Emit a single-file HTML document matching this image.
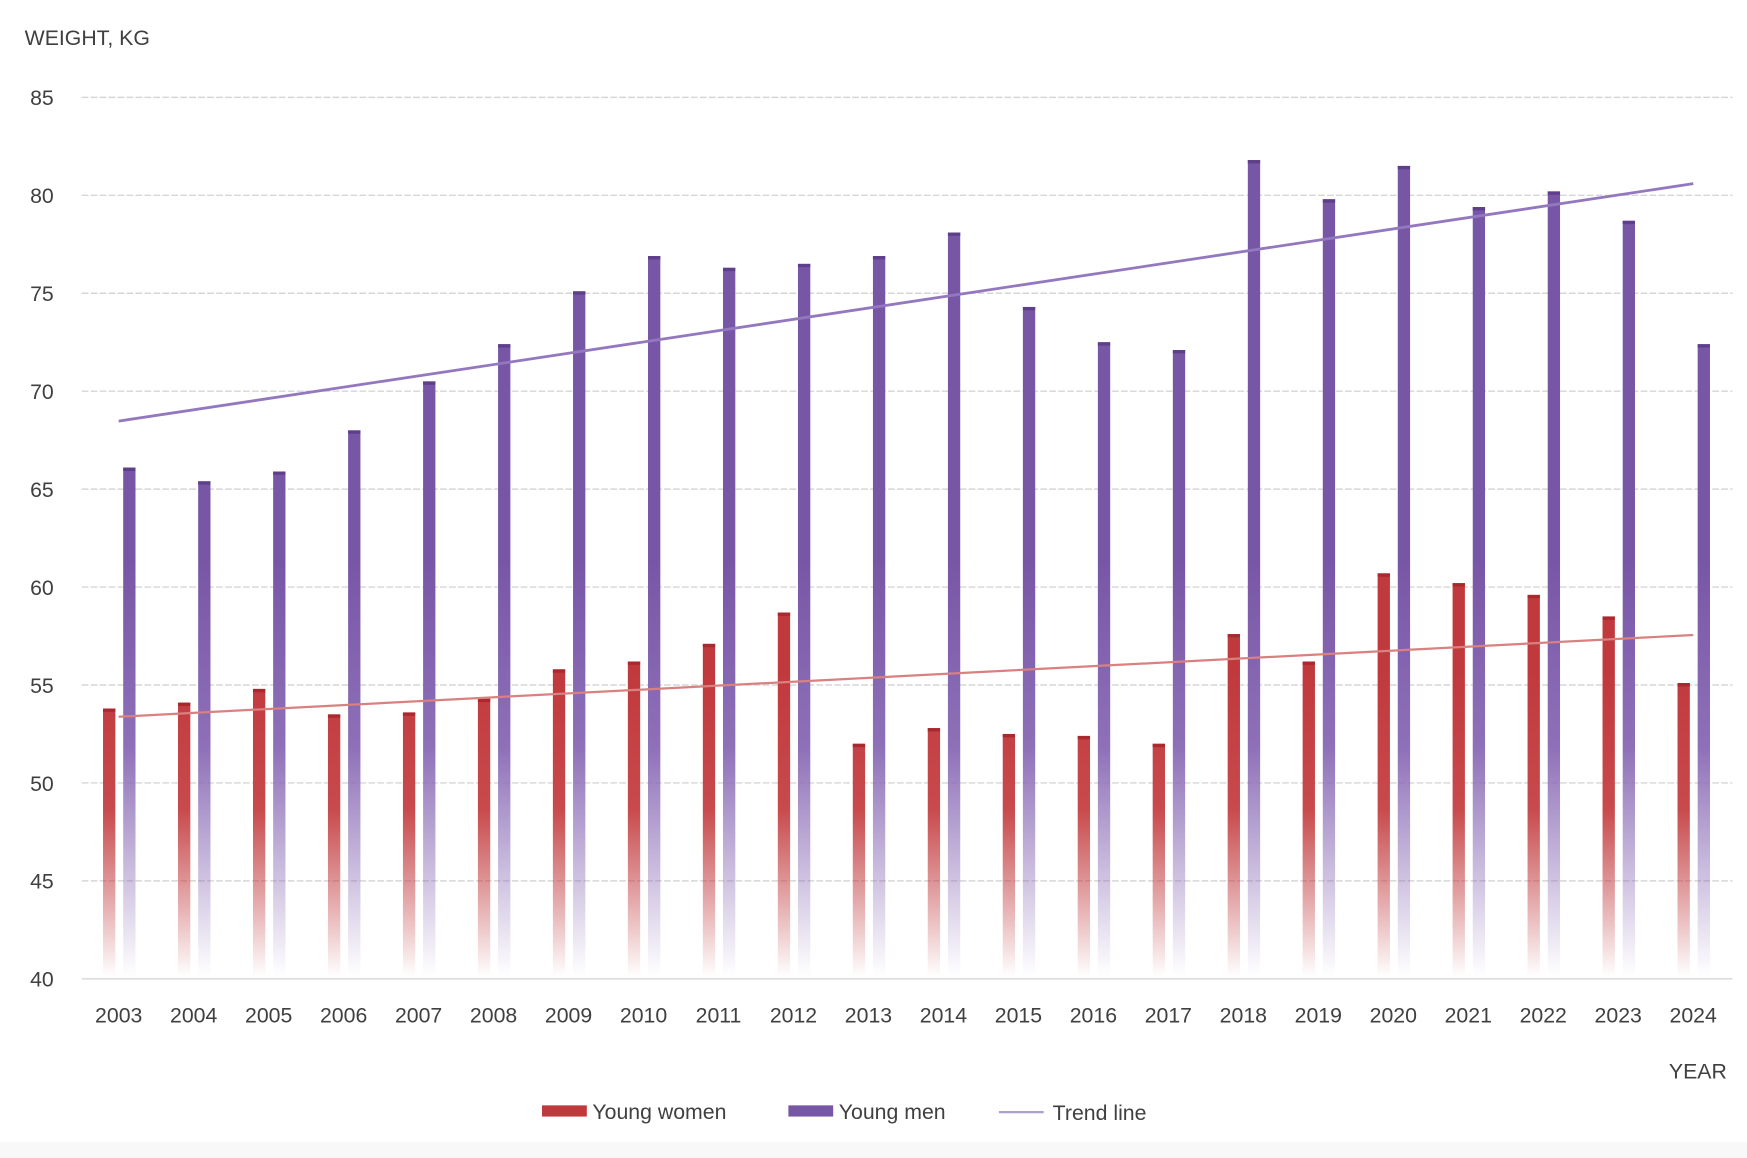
<!DOCTYPE html>
<html><head><meta charset="utf-8"><style>html,body{margin:0;padding:0;background:#fff}svg{display:block}</style></head>
<body>
<svg width="1747" height="1158" viewBox="0 0 1560 1034" preserveAspectRatio="none" font-family="'Liberation Sans', sans-serif">
<defs>
<linearGradient id="gw" gradientUnits="userSpaceOnUse" x1="0" y1="600" x2="0" y2="872">
<stop offset="0" stop-color="#c0393d"/><stop offset="0.45" stop-color="#c84a4c"/><stop offset="1" stop-color="#c0393d" stop-opacity="0"/></linearGradient>
<linearGradient id="gm" gradientUnits="userSpaceOnUse" x1="0" y1="500" x2="0" y2="872">
<stop offset="0" stop-color="#7856a6"/><stop offset="0.45" stop-color="#8e70b8"/><stop offset="1" stop-color="#8e70b8" stop-opacity="0"/></linearGradient>
</defs>
<rect x="0" y="1020" width="1560" height="14" fill="#f8f8f8"/>
<text x="22" y="40" font-size="19" fill="#404040">WEIGHT, KG</text>
<g id="grid"></g>
<g id="bars"></g>
<line x1="106" y1="640" x2="1512" y2="567" stroke="#d98080" stroke-width="2"/>
<line x1="106" y1="376" x2="1512" y2="164" stroke="#9378c0" stroke-width="2.5"/>
<text x="1542" y="963" font-size="19" fill="#404040" text-anchor="end">YEAR</text>
<rect x="484" y="987" width="40" height="10" fill="#c0393d"/>
<text x="529" y="999" font-size="19" fill="#404040">Young women</text>
<rect x="704" y="987" width="40" height="10" fill="#7856a6"/>
<text x="749" y="999" font-size="19" fill="#404040">Young men</text>
<line x1="892" y1="993" x2="932" y2="993" stroke="#b09ed0" stroke-width="2"/>
<text x="940" y="1000" font-size="19" fill="#404040">Trend line</text>
</svg>
<script>
var ns="http://www.w3.org/2000/svg";
function el(p,t,a,txt){var e=document.createElementNS(ns,t);for(var k in a)e.setAttribute(k,a[k]);if(txt)e.textContent=txt;p.appendChild(e);return e;}
function Y(v){return 874-(v-40)*17.49;}
var g=document.getElementById('grid');
for(var v=40;v<=85;v+=5){var y=Y(v);el(g,'line',{x1:73,x2:1547,y1:y,y2:y,stroke:'#d6d6d6','stroke-width':1.3,'stroke-dasharray':v==40?'':'6 2'});
el(g,'text',{x:48,y:y+7,'font-size':19,fill:'#404040','text-anchor':'end'},String(v));}
var w=[53.8,54.1,54.8,53.5,53.6,54.3,55.8,56.2,57.1,58.7,52,52.8,52.5,52.4,52,57.6,56.2,60.7,60.2,59.6,58.5,55.1];
var m=[66.1,65.4,65.9,68,70.5,72.4,75.1,76.9,76.3,76.5,76.9,78.1,74.3,72.5,72.1,81.8,79.8,81.5,79.4,80.2,78.7,72.4];
var b=document.getElementById('bars');
for(var i=0;i<22;i++){var c=106+i*66.95;
var yw=Y(w[i]),ym=Y(m[i]);
el(b,'rect',{x:c-14,y:yw,width:11,height:872-yw,fill:'url(#gw)'});
el(b,'rect',{x:c-14,y:yw,width:11,height:3,fill:'#a82a2e'});
el(b,'rect',{x:c+4,y:ym,width:11,height:872-ym,fill:'url(#gm)'});
el(b,'rect',{x:c+4,y:ym,width:11,height:3,fill:'#5e3f8a'});
el(b,'text',{x:c,y:913,'font-size':19,fill:'#404040','text-anchor':'middle'},String(2003+i));}
</script>
</body></html>
